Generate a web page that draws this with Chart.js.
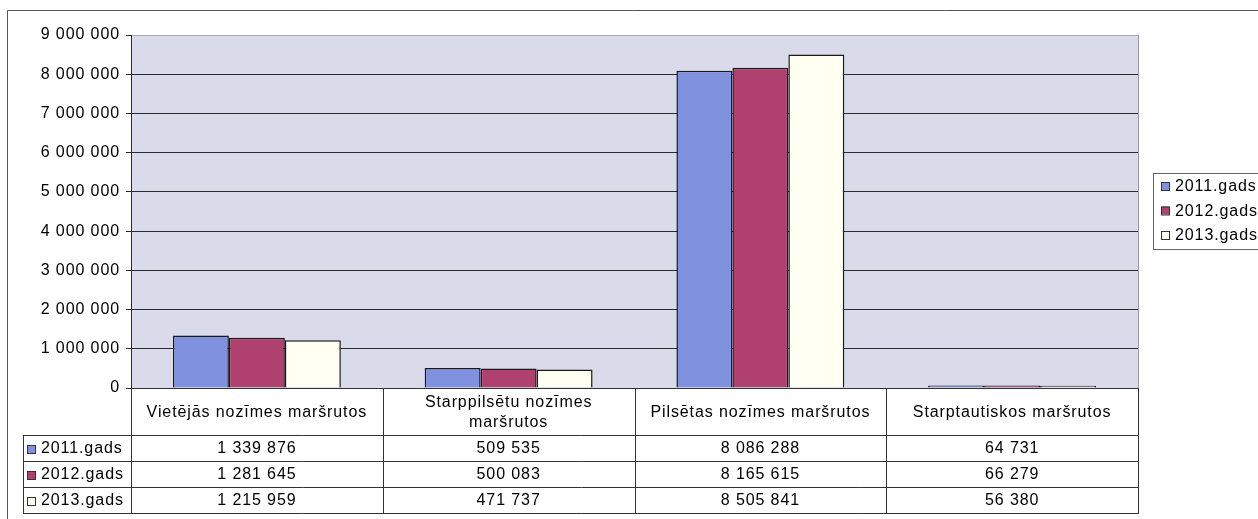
<!DOCTYPE html>
<html>
<head>
<meta charset="utf-8">
<script src="https://cdn.jsdelivr.net/npm/chart.js@4.4.1/dist/chart.umd.min.js"></script>
<style>
  html, body { margin: 0; padding: 0; background: #fff; }
  #wrap { width: 1258px; height: 519px; }
</style>
</head>
<body>
<div id="wrap"><canvas id="chart" width="1258" height="519"></canvas></div>
<script>
// data
const categories = [
    'Vietējās nozīmes maršrutos',
    ['Starppilsētu nozīmes', 'maršrutos'],
    'Pilsētas nozīmes maršrutos',
    'Starptautiskos maršrutos'
];
const seriesNames = ['2011.gads', '2012.gads', '2013.gads'];
const values2011 = [1339876, 509535, 8086288, 64731];
const values2012 = [1281645, 500083, 8165615, 66279];
const values2013 = [1215959, 471737, 8505841, 56380];
const seriesColors = ['#8092df', '#b0416f', '#fffff2'];

const FONT = '16px "Liberation Sans", Arial, sans-serif';
const SPACING = '0.9px';

function fmt(v) {
    return String(v).replace(/\B(?=(\d{3})+(?!\d))/g, ' ');
}

// background of plot, frame, spacing of text
const bgPlugin = {
    id: 'bg',
    beforeDraw(chart) {
        const { ctx, chartArea: a } = chart;
        ctx.letterSpacing = SPACING;
        ctx.save();
        ctx.fillStyle = '#d9dbea';
        ctx.fillRect(a.left, a.top, a.right - a.left, a.bottom - a.top);
        ctx.strokeStyle = '#9a9aa6';
        ctx.lineWidth = 1;
        ctx.beginPath();
        ctx.moveTo(a.right + 0.5, a.top);
        ctx.lineTo(a.right + 0.5, a.bottom);
        ctx.stroke();
        // outer chart frame
        ctx.strokeStyle = '#555';
        ctx.beginPath();
        ctx.moveTo(7.5, 519);
        ctx.lineTo(7.5, 10.5);
        ctx.lineTo(1258, 10.5);
        ctx.stroke();
        ctx.restore();
    }
};

// data table under the plot + legend on the right
const tablePlugin = {
    id: 'dataTable',
    afterDraw(chart) {
        const { ctx, chartArea: a } = chart;
        const xs = chart.scales.x;
        const n = categories.length;
        const colW = (a.right - a.left) / n;
        const headBottom = a.bottom + 47;
        const rowH = 26;
        const rowLeft = 23;
        const tableBottom = headBottom + rowH * seriesNames.length;
        const rows = [values2011, values2012, values2013];

        ctx.save();
        ctx.letterSpacing = SPACING;
        ctx.strokeStyle = '#333';
        ctx.lineWidth = 1;
        ctx.beginPath();
        // top line of the table (axis line)
        ctx.moveTo(a.left, a.bottom + 0.5);
        ctx.lineTo(a.right + 1, a.bottom + 0.5);
        // column lines
        for (let i = 0; i <= n; i++) {
            const x = Math.round(a.left + i * colW) + 0.5;
            ctx.moveTo(x, a.bottom);
            ctx.lineTo(x, tableBottom);
        }
        // row lines
        for (let r = 0; r <= seriesNames.length; r++) {
            const y = headBottom + r * rowH + 0.5;
            ctx.moveTo(rowLeft + 0.5, y);
            ctx.lineTo(a.right + 1, y);
        }
        ctx.moveTo(rowLeft + 0.5, headBottom);
        ctx.lineTo(rowLeft + 0.5, tableBottom + 1);
        ctx.stroke();

        ctx.font = FONT;
        ctx.fillStyle = '#000';
        ctx.textAlign = 'center';
        ctx.textBaseline = 'middle';
        categories.forEach((c, i) => {
            const cx = xs.getPixelForValue(i);
            const mid = (a.bottom + headBottom) / 2;
            if (Array.isArray(c)) {
                ctx.fillText(c[0], cx, mid - 9);
                ctx.fillText(c[1], cx, mid + 11);
            } else {
                ctx.fillText(c, cx, mid + 1);
            }
        });

        rows.forEach((vals, r) => {
            const cy = headBottom + r * rowH + rowH / 2 + 1;
            vals.forEach((v, i) => {
                ctx.textAlign = 'center';
                ctx.fillText(fmt(v), xs.getPixelForValue(i), cy);
            });
            // row header with legend key
            ctx.fillStyle = seriesColors[r];
            ctx.fillRect(27, cy - 4, 8, 8);
            ctx.strokeStyle = '#333';
            ctx.strokeRect(27.5, cy - 3.5, 8, 8);
            ctx.fillStyle = '#000';
            ctx.textAlign = 'left';
            ctx.fillText(seriesNames[r], 41, cy);
        });

        // legend
        ctx.strokeStyle = '#666';
        ctx.strokeRect(1153.5, 173.5, 120, 76);
        seriesNames.forEach((name, r) => {
            const cy = 186 + r * 24.5;
            ctx.fillStyle = seriesColors[r];
            ctx.fillRect(1161, cy - 4, 8, 8);
            ctx.strokeStyle = '#333';
            ctx.strokeRect(1161.5, cy - 3.5, 8, 8);
            ctx.fillStyle = '#000';
            ctx.textAlign = 'left';
            ctx.fillText(name, 1175, cy + 1);
        });
        ctx.restore();
        ctx.letterSpacing = '0px';
    }
};

const ctx = document.getElementById('chart').getContext('2d');
new Chart(ctx, {
    type: 'bar',
    data: {
        labels: categories,
        datasets: [
            { label: seriesNames[0], data: values2011, backgroundColor: seriesColors[0] },
            { label: seriesNames[1], data: values2012, backgroundColor: seriesColors[1] },
            { label: seriesNames[2], data: values2013, backgroundColor: seriesColors[2] }
        ].map(d => Object.assign(d, {
            borderColor: '#1a1a1a',
            borderWidth: 1.5,
            borderSkipped: 'bottom',
            categoryPercentage: 0.667,
            barPercentage: 1.0
        }))
    },
    options: {
        responsive: false,
        animation: false,
        devicePixelRatio: 1,
        layout: { padding: { left: 0, top: 35, right: 120, bottom: 131 } },
        plugins: {
            legend: { display: false },
            tooltip: { enabled: false }
        },
        scales: {
            x: { display: false },
            y: {
                min: 0,
                max: 9000000,
                afterFit(scale) { scale.width = 131; },
                ticks: {
                    stepSize: 1000000,
                    color: '#000',
                    padding: 6,
                    font: { family: '"Liberation Sans", Arial, sans-serif', size: 16 },
                    callback: v => fmt(v)
                },
                grid: {
                    color: c => (c.tick && c.tick.value === 9000000) ? '#a8a8b4' : '#2a2a2a',
                    tickColor: '#2a2a2a',
                    tickLength: 5,
                    lineWidth: 1
                },
                border: { color: '#2a2a2a' }
            }
        }
    },
    plugins: [bgPlugin, tablePlugin]
});
</script>
</body>
</html>
